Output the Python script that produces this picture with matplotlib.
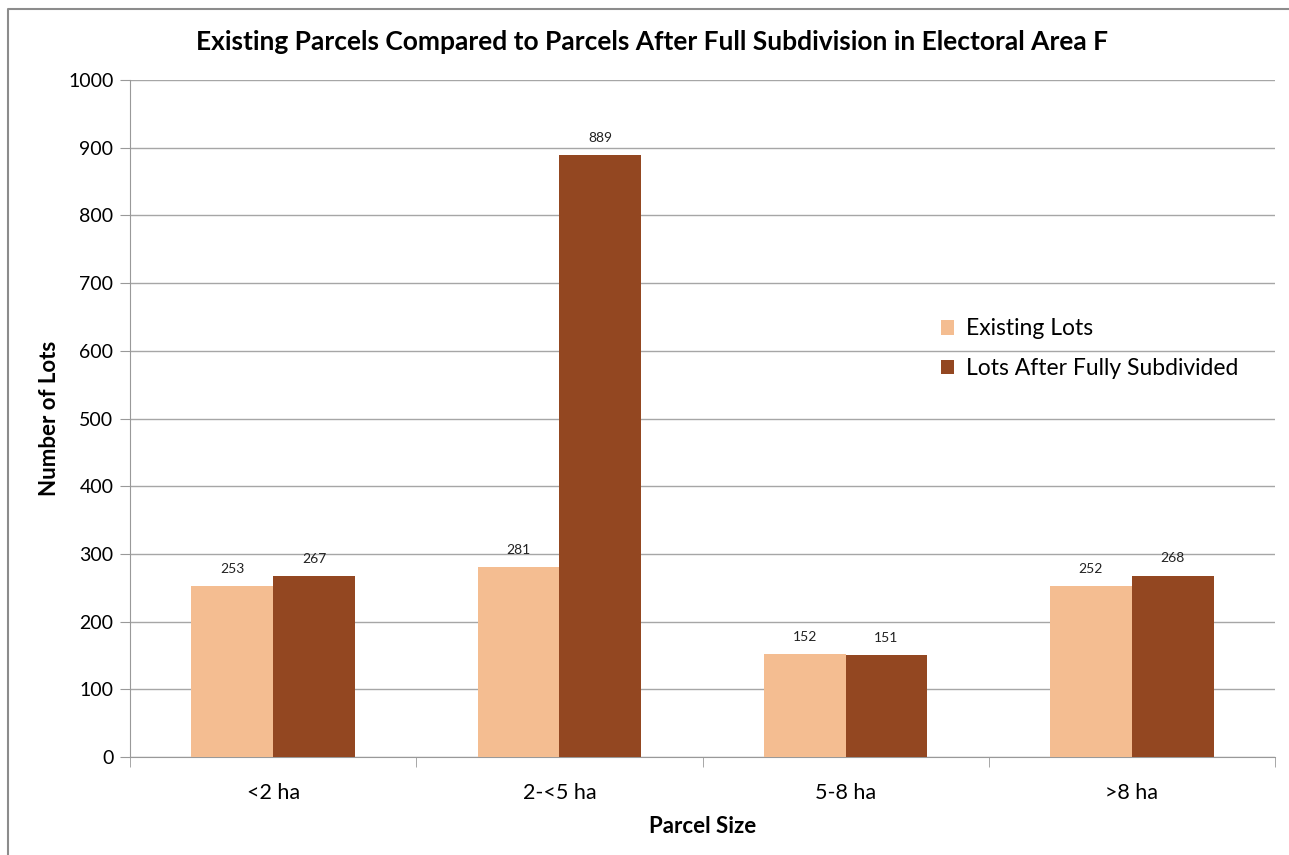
import numpy as np
import matplotlib.pyplot as plt
from matplotlib.lines import Line2D

categories = ['<2 ha', '2-<5 ha', '5-8 ha', '>8 ha']
existing_lots = [253, 281, 152, 252]
after_subdivided = [267, 889, 151, 268]
series_names = ['Existing Lots', 'Lots After Fully Subdivided']

plt.rcParams['font.family'] = ['Lato', 'DejaVu Sans']

fig = plt.figure(figsize=(12.89, 8.55), dpi=100)
ax = fig.add_axes([0.1009, 0.1146, 0.8882, 0.7918])

x = np.arange(len(categories))
w = 0.2857
b1 = ax.bar(x - w / 2, existing_lots, w, color='#F4BD91', label=series_names[0], zorder=3)
b2 = ax.bar(x + w / 2, after_subdivided, w, color='#934721', label=series_names[1], zorder=3)

for bars in (b1, b2):
    for r in bars:
        ax.annotate(f'{int(r.get_height())}', (r.get_x() + r.get_width() / 2, r.get_height()),
                    xytext=(0, 8), textcoords='offset points', ha='center', va='bottom',
                    fontsize=10, color='#222222')

ax.set_xlim(-0.5, len(categories) - 0.5)
ax.set_ylim(0, 1000)
ax.set_yticks(range(0, 1001, 100))
ax.set_xticks(x)
ax.set_xticklabels(categories)
ax.set_xticks(np.arange(-0.5, len(categories), 1), minor=True)
ax.tick_params(axis='x', which='major', length=0, labelsize=15.5, pad=19)
ax.tick_params(axis='x', which='minor', length=7, color='#999999')
ax.tick_params(axis='y', length=7, color='#999999', labelsize=14, pad=5)

ax.grid(axis='y', color='#A6A6A6', linewidth=1, zorder=0)
for s in ['top', 'right']:
    ax.spines[s].set_visible(False)
for s in ['left', 'bottom']:
    ax.spines[s].set_color('#999999')

# title is centred on the whole chart, not on the plot area
fig.text(0.506, 1 - 42 / 855, 'Existing Parcels Compared to Parcels After Full Subdivision in Electoral Area F',
         ha='center', va='center', fontsize=19, fontweight='bold')
ax.set_ylabel('Number of Lots', fontsize=16, fontweight='bold', labelpad=6)
ax.set_xlabel('Parcel Size', fontsize=16, fontweight='bold', labelpad=9)

ax.legend(loc='center left', bbox_to_anchor=(0.690, 0.603), frameon=False, fontsize=16.5,
          handlelength=0.6, handleheight=0.6, handletextpad=0.5, labelspacing=0.82)

# outer chart border (left and top edges visible)
x0, y0 = 8 / 1289, 1 - 9 / 855
fig.add_artist(Line2D([x0, x0, 1.0], [0.0, y0, y0], transform=fig.transFigure,
                      color='#8C8C8C', linewidth=1.5))

fig.savefig('out.png', dpi=100)
